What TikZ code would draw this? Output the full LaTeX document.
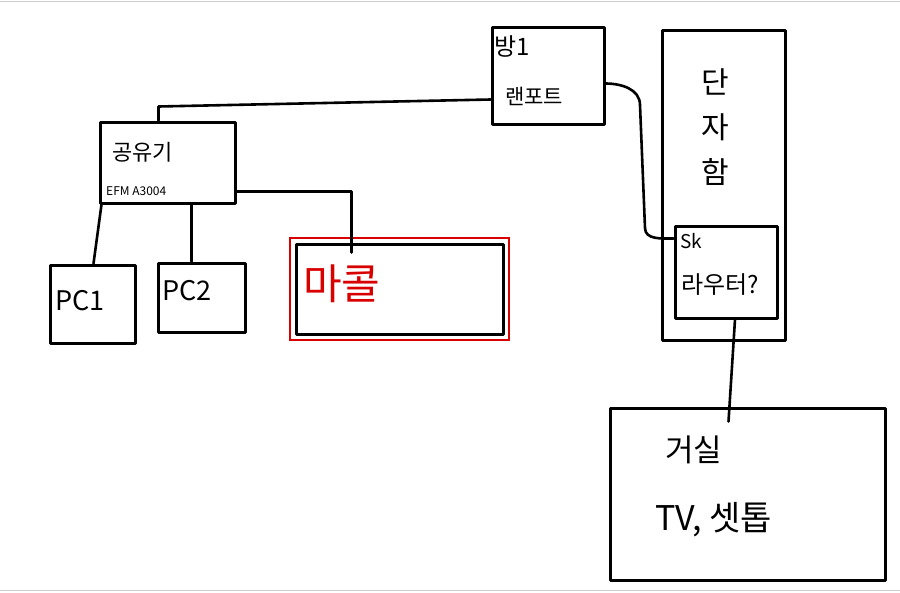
\documentclass[tikz,border=0pt]{standalone}
\usepackage{fontspec}
\setmainfont{Noto Sans CJK KR}
\usetikzlibrary{calc}
\begin{document}
\begin{tikzpicture}[x=1pt,y=-1pt,
  box/.style={draw=black,line width=3pt,rectangle,inner sep=0pt,line join=round},
  wire/.style={draw=black,line width=2.6pt,line cap=round,line join=round},
  lbl/.style={inner sep=0pt,anchor=west,font=\fontsize{22}{24}\selectfont}]
\useasboundingbox (0,0) rectangle (900,592);
\fill[white] (0,0) rectangle (900,592);
\draw[gray!40,line width=1pt] (0,1) -- (900,1);
\draw[gray!40,line width=1pt] (0,590) -- (900,590);
% boxes
\node[box,minimum width=112pt,minimum height=97pt] (bang1) at (548,75.5) {};
\node[box,minimum width=135pt,minimum height=81pt] (gong) at (167.5,162.5) {};
\node[box,minimum width=85pt,minimum height=78pt] (pc1) at (92.5,304) {};
\node[box,minimum width=87pt,minimum height=69pt] (pc2) at (201.5,297.5) {};
\node[draw=red!85!black,line width=2.4pt,rectangle,minimum width=219pt,minimum height=102pt,inner sep=0pt] (macolred) at (399.5,289) {};
\node[box,minimum width=207pt,minimum height=90pt] (macol) at (399.5,289) {};
\node[box,minimum width=123pt,minimum height=310pt] (danja) at (723.5,185) {};
\node[box,minimum width=102pt,minimum height=92pt] (sk) at (726,272) {};
\node[box,minimum width=275pt,minimum height=172pt] (living) at (747.5,494) {};
% texts
\node[lbl,font=\fontsize{24}{26}\selectfont] (t1) at (494,46) {방1};
\node[lbl,font=\fontsize{21}{23}\selectfont] (t2) at (505,96) {랜포트};
\node[lbl] (t3) at (112,152) {공유기};
\node[lbl,font=\fontsize{12}{13}\selectfont] (t4) at (106,191) {EFM A3004};
\node[lbl,font=\fontsize{27}{29}\selectfont] (t5) at (55,301) {PC1};
\node[lbl,font=\fontsize{27}{29}\selectfont] (t6) at (162,291) {PC2};
\node[lbl,text=red!85!black,font=\fontsize{42}{44}\selectfont] (t7) at (303,284) {마콜};
\node[lbl,font=\fontsize{30}{32}\selectfont] (t8) at (701,82) {단};
\node[lbl,font=\fontsize{30}{32}\selectfont] (t9) at (701,127) {자};
\node[lbl,font=\fontsize{30}{32}\selectfont] (t10) at (701,172) {함};
\node[lbl,font=\fontsize{19}{21}\selectfont] (t11) at (680,241) {Sk};
\node[lbl,font=\fontsize{24}{26}\selectfont] (t12) at (681,285) {라우터?};
\node[lbl,font=\fontsize{31}{33}\selectfont] (t13) at (665,450) {거실};
\node[lbl,font=\fontsize{34}{36}\selectfont] (t14) at (655,520) {TV, 셋톱};
% connectors
\draw[wire] ($(gong.north west)+(60,0)$) -- ++(0,-14) -- ($(bang1.south west)+(0,-26)$);
\draw[wire] ($(gong.south east)+(0,-13)$) -| ($(macol.north west)+(57,10)$);
\draw[wire] ($(gong.south west)+(3,0)$) -- ($(pc1.north west)+(45,0)$);
\draw[wire] ($(gong.south west)+(93,0)$) -- ($(pc2.north west)+(35,0)$);
\draw[wire] ($(bang1.east)+(0,8)$) to[out=0,in=90] (640,105) -- (645,228) to[out=-90,in=180] ($(sk.north west)+(0,14)$);
\draw[wire] ($(sk.south)+(9,0)$) -- ($(living.north west)+(120,15)$);
\end{tikzpicture}
\end{document}
